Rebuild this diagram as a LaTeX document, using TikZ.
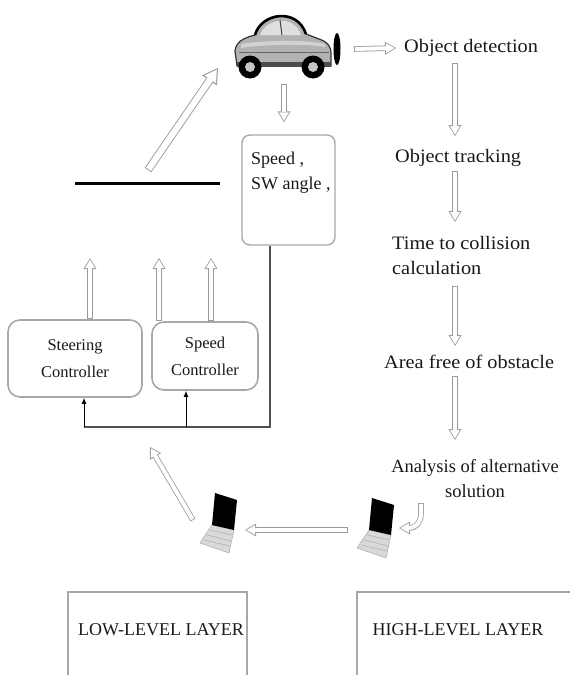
\documentclass[tikz,border=0pt]{standalone}
\usepackage{fontspec}
\setmainfont{Liberation Serif}
\newfontfamily\widefont[FakeStretch=1.07]{Liberation Serif}
\usetikzlibrary{arrows.meta}
\definecolor{hgray}{HTML}{9A9A9A}
\definecolor{boxgray}{HTML}{A8A8A8}
\definecolor{wirecol}{HTML}{505050}
\tikzset{
  laptop/.pic={
    % keyboard base
    \fill[gray!30, draw=gray!60, line width=0.6pt] (-8,0) -- (14,5) -- (9,28) -- (-20,18) -- cycle;
    \draw[gray!60, line width=0.6pt] (-10,5) -- (12,10) (-13,10) -- (11,16) (-16,15) -- (10,21);
    % screen
    \fill[black] (-5,-32) -- (17,-25) -- (14,5) -- (-8,0) -- cycle;
  }
}
\begin{document}
\begin{tikzpicture}[x=1pt,y=-1pt,
  hollow/.style={draw=hgray, line width=5.6pt,
    -{Triangle[length=11pt,width=13pt,line width=0pt]},
    postaction={draw=white, line width=4pt, shorten <=0.8pt, shorten >=1.5pt,
      -{Triangle[length=8.5pt,width=9.8pt,line width=0pt]}}},
  bighollow/.style={draw=hgray, line width=8pt,
    -{Triangle[length=15pt,width=18pt,line width=0pt]},
    postaction={draw=white, line width=6.2pt, shorten <=0.9pt, shorten >=2pt,
      -{Triangle[length=11.8pt,width=14pt,line width=0pt]}}},
  txt/.style={font=\widefont\fontsize{19}{25}\selectfont, inner sep=0pt, text=black!90},
  caps/.style={font=\fontsize{18}{22}\selectfont, inner sep=0pt, text=black!90},
  ctrl/.style={draw=boxgray, line width=1.6pt, rounded corners=12pt,
    font=\fontsize{16.5}{27}\selectfont, align=center, inner sep=0pt, text=black!90},
  layer/.style={draw=boxgray, line width=1.5pt},
  wire/.style={draw=wirecol, line width=2pt},
  feed/.style={draw=black, line width=1pt, -{Latex[length=6pt,width=5pt]}},
]
\useasboundingbox (0,0) rectangle (570,675);

% ---------------- vehicle ----------------
\coordinate (car) at (285,45);
\begin{scope}[shift={(car)}]
  \fill[gray!60, draw=black!80, line width=1.2pt]
    (-48,21) -- (-50,6) .. controls (-49,-3) and (-42,-7) .. (-30,-10)
    .. controls (-24,-32) and (12,-38) .. (21,-11) -- (34,-6)
    .. controls (43,-3) and (46,2) .. (46,8) -- (46,21) -- cycle;
  \fill[gray!25] (-25,-10) .. controls (-19,-27) and (9,-31) .. (16,-10) -- cycle;
  \draw[gray!50!black, line width=1pt] (-5,-25) -- (-3,-10);
  \fill[gray!35] (-44,-1) .. controls (-30,-4) and (20,-6) .. (40,-1) -- (40,2) .. controls (20,-2) and (-30,0) .. (-44,3) -- cycle;
  \draw[black, line width=2.6pt] (-30,-10) .. controls (-24,-32) and (12,-38) .. (21,-11);
  \draw[black!60, line width=0.8pt] (-46,7) -- (44,7);
  \fill[black!70] (-48,17) rectangle (46,22);
  \foreach \wx in {-35,28} {
    \fill[black] (\wx,22) circle[radius=11.5];
    \fill[gray!45] (\wx,22) circle[radius=5];
  }
  \fill[black] (52,4) ellipse[x radius=3.5, y radius=16];
\end{scope}

% ---------------- high-level chain ----------------
\node[txt, anchor=west] (det) at (404,48) {Object detection};
\node[txt, anchor=west] (track) at (395,158) {Object tracking};
\node[txt, anchor=north west, align=left] (ttc) at (392,236) {Time to collision\\calculation};
\node[txt, anchor=west] (area) at (384,362) {Area free of obstacle};
\node[txt, font=\fontsize{18.5}{25}\selectfont, anchor=north, align=center] (alt) at (475,459) {Analysis of alternative\\solution};

\coordinate (col) at (455,0);
\coordinate (carR) at (354,49);
\draw[hollow] (carR) -- ([xshift=-8pt]det.west);
\draw[hollow] ([yshift=-6pt]det.south -| col) -- ([yshift=13pt]track.north -| col);
\draw[hollow] ([yshift=-4pt]track.south -| col) -- ([yshift=14pt]ttc.north -| col);
\draw[hollow] ([yshift=-11pt]ttc.south -| col) -- ([yshift=9pt]area.north -| col);
\draw[hollow] ([yshift=-7pt]area.south -| col) -- ([yshift=19pt]alt.north -| col);

% ---------------- measurement box ----------------
\node[draw=boxgray, line width=1.4pt, rounded corners=8pt, minimum width=93pt,
      minimum height=110pt, inner sep=0pt] (swbox) at (288.5,190) {};
\node[txt, font=\fontsize{18}{25}\selectfont, anchor=north west, align=left] (swtxt) at (251,152) {Speed ,\\SW angle ,};
\coordinate (carB) at (284,84);
\draw[hollow] (carB) -- ([yshift=12pt]swbox.north -| carB);

% ---------------- actuation ----------------
\draw[black, line width=3pt] (75,183) coordinate (barW) -- (220,183) coordinate (barE);
\coordinate (dtail) at (148,170);
\coordinate (carSW) at (218,68);
\draw[bighollow] (dtail) -- (carSW);

\node[ctrl, minimum width=134pt, minimum height=77pt] (steer) at (75,358.5) {Steering\\Controller};
\node[ctrl, minimum width=106pt, minimum height=68pt] (speedc) at (205,356) {Speed\\Controller};

\coordinate (u1) at (90,258);
\coordinate (u2) at (159,258);
\coordinate (u3) at (211,258);
\draw[hollow] (steer.north -| u1) -- (u1);
\draw[hollow] (speedc.north -| u2) -- (u2);
\draw[hollow] (speedc.north -| u3) -- (u3);

\coordinate (corner) at (270,427);
\coordinate (fS) at (84,427);
\coordinate (fP) at (186,427);
\draw[wire] (swbox.south -| corner) -- (corner) -- (fS);
\draw[feed] (fS) -- (fS |- steer.south);
\draw[feed] (fP) -- (fP |- speedc.south);

% ---------------- computers ----------------
\pic (lapL) at (220,525) {laptop};
\pic (lapR) at (377,530) {laptop};
\coordinate (lapRw) at (348,530);
\coordinate (lapLe) at (245,530);
\draw[hollow] (lapRw) -- (lapLe);
\coordinate (lapLnw) at (193,520);
\coordinate (toCtrl) at (150,447);
\draw[hollow] (lapLnw) -- (toCtrl);
\coordinate (hookS) at (421,503);
\coordinate (hookE) at (399,528);
\draw[hollow] (hookS) -- (421,513) .. controls (421,524) and (414,528) .. (hookE);

% ---------------- layers ----------------
\draw[layer] (68,675) -- (68,592) -- (247,592) -- (247,675);
\draw[layer] (357,675) -- (357,592) -- (570,592);
\node[caps] (low) at (161,630) {LOW-LEVEL LAYER};
\node[caps] (high) at (458,630) {HIGH-LEVEL LAYER};
\end{tikzpicture}
\end{document}
